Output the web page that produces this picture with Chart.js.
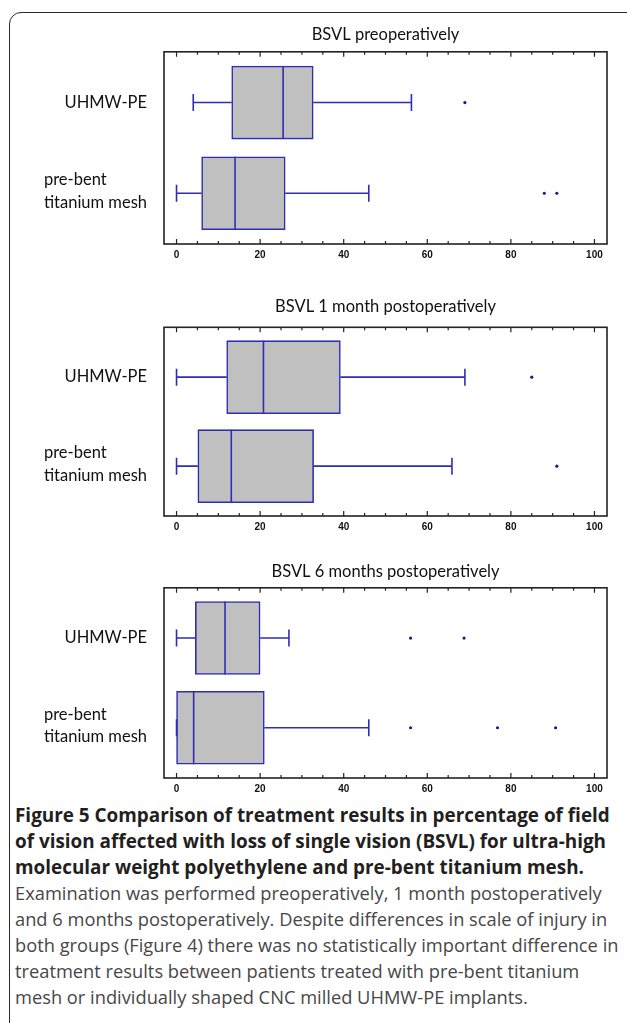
<!DOCTYPE html>
<html>
<head>
<meta charset="utf-8">
<script src="https://cdn.jsdelivr.net/npm/chart.js@4.4.0/dist/chart.umd.min.js"></script>
<style>
  html, body { margin: 0; padding: 0; background: #fff; }
  body { width: 627px; height: 1023px; position: relative; overflow: hidden; }
  #frame { position: absolute; left: 9px; top: 12px; width: 640px; height: 1040px;
           border: 1.5px solid #2a2a2a; border-radius: 12px; box-sizing: border-box; }
  canvas.panel { position: absolute; left: 0; }
  #caption { position: absolute; left: 15px; top: 802px; white-space: nowrap; font-family: "Open Sans", sans-serif; }
  #caption .bold { font-weight: 700; font-size: 18.9px; line-height: 26px; color: #231f20; }
  #caption .reg { font-weight: 400; font-size: 18.3px; line-height: 26px; color: #474747; }
</style>
</head>
<body>
<div id="frame"></div>
<canvas id="c0" class="panel" width="627" height="241" style="top:25px"></canvas>
<canvas id="c1" class="panel" width="627" height="241" style="top:297px"></canvas>
<canvas id="c2" class="panel" width="627" height="238" style="top:562px"></canvas>
<div id="caption">
  <div class="bold">Figure 5 Comparison of treatment results in percentage of field<br>of vision affected with loss of single vision (BSVL) for ultra-high<br>molecular weight polyethylene and pre-bent titanium mesh.</div>
  <div class="reg">Examination was performed preoperatively, 1 month postoperatively<br>and 6 months postoperatively. Despite differences in scale of injury in<br>both groups (Figure 4) there was no statistically important difference in<br>treatment results between patients treated with pre-bent titanium<br>mesh or individually shaped CNC milled UHMW-PE implants.</div>
</div>
<script>
// groups (top to bottom in every panel)
const categories = [["UHMW-PE"], ["pre-bent", "titanium mesh"]];
const panelTitles = ["BSVL preoperatively", "BSVL 1 month postoperatively", "BSVL 6 months postoperatively"];
const xTicks = [0, 20, 40, 60, 80, 100];
const xMinorTicks = [0, 5, 10, 15, 20, 25, 30, 35, 40, 45, 50, 55, 60, 65, 70, 75, 80, 85, 90, 95, 100];

// one row per panel: [UHMW-PE, pre-bent titanium mesh]
const whiskerLow  = [[4, 0], [0, 0], [0, 0]];
const quart1      = [[13.2, 6], [12, 5.1], [4.5, 0]];
const medians     = [[25.5, 14], [20.8, 13.1], [11.6, 4.1]];
const quart3      = [[32.7, 26], [39.2, 32.8], [20, 21]];
const whiskerHigh = [[56.2, 46], [69, 65.9], [26.9, 46]];
const means       = [[27.3, 20.3], [29.2, 20.2], [15.8, 15.4]];
const outliers    = [[[69], [88, 91]], [[85], [91]], [[56, 68.8], [56, 76.8, 90.7]]];

const titleGap = [7, 10.5, 6];

const boxBlue = "#2e2eb4";
const boxFill = "#c0c0c0";
const frameCol = "#222";

const boxPlotPlugin = {
  id: "boxPlot",
  afterDatasetsDraw(chart) {
    const p = chart.options.plugins.boxPlot.panel;
    const { ctx, scales: { x, y } } = chart;
    const bars = chart.getDatasetMeta(0).data;
    ctx.save();
    ctx.strokeStyle = boxBlue;
    ctx.lineWidth = 1.6;
    categories.forEach((c, i) => {
      const cy = y.getPixelForValue(i);
      const h = bars[i].height;
      const xl = x.getPixelForValue(whiskerLow[p][i]);
      const x1 = x.getPixelForValue(quart1[p][i]);
      const xm = x.getPixelForValue(medians[p][i]);
      const x3 = x.getPixelForValue(quart3[p][i]);
      const xh = x.getPixelForValue(whiskerHigh[p][i]);
      ctx.beginPath();
      ctx.moveTo(xl, cy); ctx.lineTo(x1, cy);
      ctx.moveTo(x3, cy); ctx.lineTo(xh, cy);
      ctx.moveTo(xl, cy - 8.5); ctx.lineTo(xl, cy + 8.5);
      ctx.moveTo(xh, cy - 8.5); ctx.lineTo(xh, cy + 8.5);
      ctx.moveTo(xm, cy - h / 2); ctx.lineTo(xm, cy + h / 2);
      ctx.stroke();
    });
    ctx.restore();
  },
  afterDraw(chart) {
    const { ctx, chartArea: a, scales: { x, y } } = chart;
    ctx.save();
    // frame
    ctx.strokeStyle = frameCol;
    ctx.lineWidth = 1.6;
    ctx.strokeRect(a.left, a.top, a.right - a.left, a.bottom - a.top);
    // inward ticks top and bottom
    ctx.lineWidth = 1.2;
    ctx.beginPath();
    xMinorTicks.forEach(v => {
      const px = x.getPixelForValue(v);
      const len = xTicks.includes(v) ? 5 : 3;
      ctx.moveTo(px, a.top); ctx.lineTo(px, a.top + len);
      ctx.moveTo(px, a.bottom); ctx.lineTo(px, a.bottom - len);
    });
    ctx.stroke();
    // group labels, block right-aligned, lines left-aligned
    ctx.font = "16.5px Lato";
    ctx.fillStyle = "#111";
    ctx.textBaseline = "middle";
    ctx.textAlign = "left";
    categories.forEach((lines, i) => {
      const cy = y.getPixelForValue(i);
      const w = Math.max(...lines.map(t => ctx.measureText(t).width));
      const left = 147 - w;
      const lh = 22.5;
      const shift = lines.length > 1 ? -2 : 0;
      lines.forEach((t, k) => {
        ctx.fillText(t, left, cy + shift + (k - (lines.length - 1) / 2) * lh);
      });
    });
    ctx.restore();
  }
};

function makePanel(p) {
  const boxes = quart1[p].map((v, i) => ({ y: i, x: [v, quart3[p][i]] }));
  const meanPts = means[p].map((v, i) => ({ x: v, y: i }));
  const outPts = outliers[p].flatMap((vals, i) => vals.map(v => ({ x: v, y: i })));

  new Chart(document.getElementById("c" + p), {
    type: "bar",
    data: {
      datasets: [
        {
          type: "bar",
          data: boxes,
          backgroundColor: boxFill,
          borderColor: boxBlue,
          borderWidth: 1.6,
          borderSkipped: false,
          barThickness: 73
        },
        {
          type: "scatter",
          data: meanPts,
          pointRadius: 1.1,
          pointBackgroundColor: "#808080",
          pointBorderWidth: 0
        },
        {
          type: "scatter",
          data: outPts,
          pointRadius: 1.6,
          pointBackgroundColor: "#1c1c8a",
          pointBorderWidth: 0
        }
      ]
    },
    options: {
      indexAxis: "y",
      responsive: false,
      animation: false,
      layout: { padding: { left: 164, right: 20, top: 0, bottom: 0 } },
      scales: {
        x: {
          type: "linear",
          min: -3,
          max: 103,
          offset: false,
          afterBuildTicks: s => { s.ticks = xTicks.map(v => ({ value: v })); },
          afterFit: s => { s.height = 22; },
          grid: { display: false, drawTicks: false },
          border: { display: false },
          ticks: {
            padding: 5,
            color: "#111",
            font: { family: "Liberation Sans", size: 10, weight: "bold" }
          }
        },
        y: {
          type: "linear",
          display: false,
          reverse: true,
          offset: false,
          min: -0.56,
          max: 1.56
        }
      },
      plugins: {
        legend: { display: false },
        tooltip: { enabled: false },
        title: {
          display: true,
          text: panelTitles[p],
          color: "#111",
          font: { family: "Lato", size: 16.5, weight: "normal" },
          padding: { top: 0, bottom: titleGap[p] }
        },
        boxPlot: { panel: p }
      }
    },
    plugins: [boxPlotPlugin]
  });
}

[0, 1, 2].forEach(makePanel);
</script>
</body>
</html>
